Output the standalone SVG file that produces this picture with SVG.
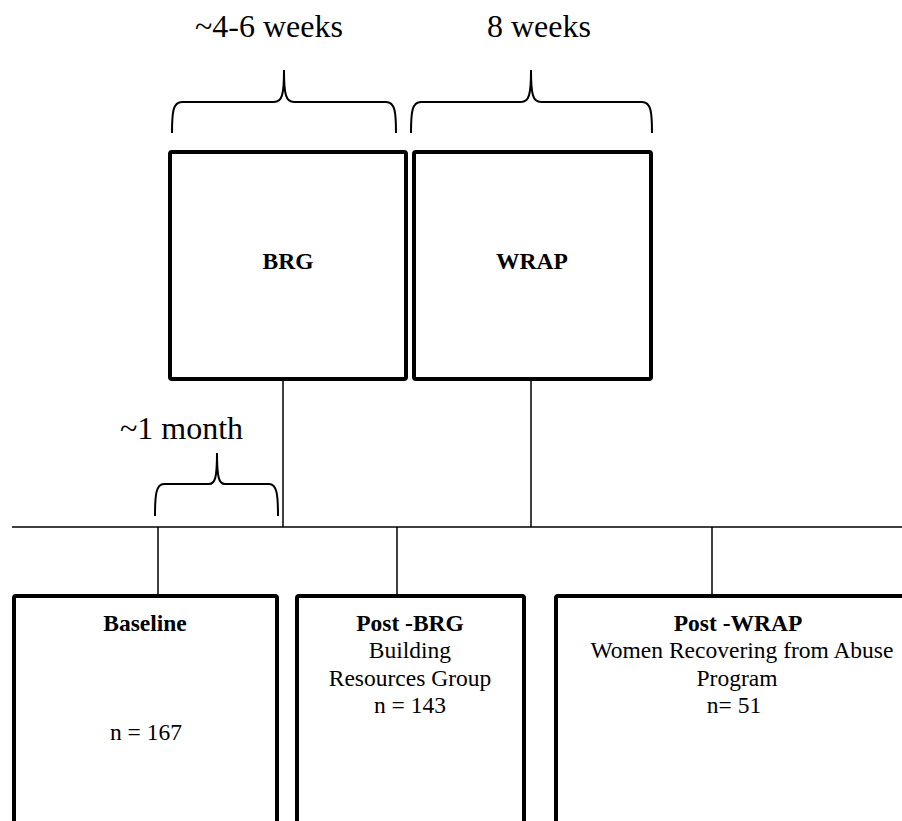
<svg xmlns="http://www.w3.org/2000/svg" width="902" height="821" viewBox="0 0 902 821">
<style>
.box{fill:#fff;stroke:#000;stroke-width:4;stroke-linejoin:round}
.ln{fill:none;stroke:#000;stroke-width:1.5}
.br{fill:none;stroke:#000;stroke-width:2}
.t{font-family:"Liberation Serif","Times New Roman",serif;fill:#000}
.big{font-size:32px}
.b{font-size:23.5px;font-weight:bold}
.r{font-size:23.5px}
.c{text-anchor:middle}
</style>
<rect width="902" height="821" fill="#fff"/>
<g id="labels">
<text class="t big" x="195" y="37">~4-6 weeks</text>
<text class="t big" x="487" y="37">8 weeks</text>
<text class="t big" x="120" y="439">~1 month</text>
</g>
<g id="connectors">
<path class="br" d="M172,133 C172,112 173,102 182,102 L274,102 C282,102 284,95 284,70 C284,95 286,102 294,102 L386,102 C395,102 396,112 396,133"/>
<path class="br" d="M411,133 C411,112 412,102 421,102 L521,102 C529,102 531,95 531,70 C531,95 533,102 541,102 L642,102 C651,102 652,112 652,133"/>
<path class="br" d="M155,516 C155,495 156,484 164,484 L209,484 C215,484 217,478 217,453 C217,478 219,484 225,484 L269,484 C277,484 278,495 278,516"/>
<line class="ln" x1="12" y1="527" x2="902" y2="527"/>
<line class="ln" x1="283" y1="381" x2="283" y2="527"/>
<line class="ln" x1="531" y1="381" x2="531" y2="527"/>
<line class="ln" x1="158" y1="527" x2="158" y2="594"/>
<line class="ln" x1="397" y1="527" x2="397" y2="594"/>
<line class="ln" x1="712" y1="527" x2="712" y2="594"/>
</g>
<g id="brg">
<rect class="box" x="170" y="152" width="236" height="227" rx="2"/>
<text class="t b c" x="288" y="269">BRG</text>
</g>
<g id="wrap">
<rect class="box" x="414" y="152" width="237" height="227" rx="2"/>
<text class="t b c" x="532" y="269">WRAP</text>
</g>
<g id="baseline">
<rect class="box" x="14" y="596" width="263" height="300" rx="2"/>
<text class="t b c" x="145" y="631">Baseline</text>
<text class="t r c" x="146" y="740">n = 167</text>
</g>
<g id="post-brg">
<rect class="box" x="297" y="596" width="227" height="300" rx="2"/>
<text class="t b c" x="410" y="631">Post -BRG</text>
<text class="t r c" x="410" y="658">Building</text>
<text class="t r c" x="410" y="686">Resources Group</text>
<text class="t r c" x="410" y="713">n = 143</text>
</g>
<g id="post-wrap">
<rect class="box" x="556" y="596" width="400" height="300" rx="2"/>
<text class="t b c" x="738" y="631">Post -WRAP</text>
<text class="t r c" x="742" y="658">Women Recovering from Abuse</text>
<text class="t r c" x="737" y="686">Program</text>
<text class="t r c" x="734" y="713">n= 51</text>
</g>
</svg>
